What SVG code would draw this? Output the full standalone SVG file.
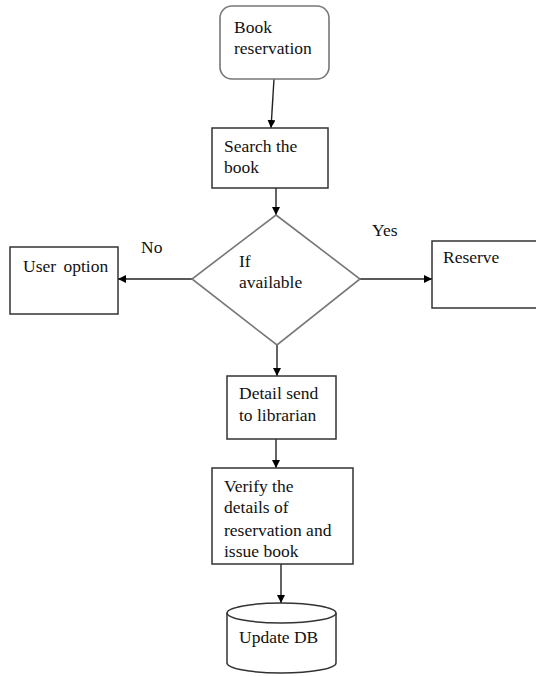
<svg xmlns="http://www.w3.org/2000/svg" width="536" height="676" viewBox="0 0 536 676">
<defs>
<marker id="ah" viewBox="0 0 10 10" refX="10" refY="5" markerWidth="8" markerHeight="8" markerUnits="userSpaceOnUse" orient="auto">
<path d="M0,0 L10,5 L0,10 Z" fill="#000"/>
</marker>
<style>
.box{fill:#fff;stroke:#333;stroke-width:1.5}
.soft{fill:#fff;stroke:#777;stroke-width:1.6}
.t{font-family:"Liberation Serif","Times New Roman",serif;font-size:17.5px;fill:#111}
.c{fill:none;stroke:#222;stroke-width:1.4;marker-end:url(#ah)}
</style>
</defs>
<rect width="536" height="676" fill="#fff"/>
<g id="connectors">
<line class="c" x1="274" y1="79" x2="271" y2="128"/>
<line class="c" x1="276" y1="188" x2="276" y2="215"/>
<line class="c" x1="192" y1="279" x2="118" y2="279"/>
<line class="c" x1="360" y1="279" x2="432" y2="279"/>
<line class="c" x1="277" y1="345" x2="277" y2="376"/>
<line class="c" x1="276" y1="439" x2="276" y2="468"/>
<line class="c" x1="281" y1="564" x2="281" y2="603"/>
<text class="t" x="141" y="253">No</text>
<text class="t" x="372" y="236">Yes</text>
</g>
<g id="book-reservation">
<rect class="soft" x="220" y="6" width="109" height="73" rx="12"/>
<text class="t" x="234" y="33">Book</text>
<text class="t" x="234" y="54">reservation</text>
</g>
<g id="search-book">
<rect class="box" x="212" y="128" width="116" height="60"/>
<text class="t" x="224" y="152">Search the</text>
<text class="t" x="224" y="173">book</text>
</g>
<g id="if-available">
<polygon class="soft" points="276,215 360,279 277,345 192,279"/>
<text class="t" x="239" y="267">If</text>
<text class="t" x="239" y="288">available</text>
</g>
<g id="user-option">
<rect class="box" x="10" y="247" width="108" height="67"/>
<text class="t" x="23" y="272" word-spacing="3">User option</text>
</g>
<g id="reserve">
<rect class="box" x="432" y="241" width="110" height="67"/>
<text class="t" x="443" y="263">Reserve</text>
</g>
<g id="detail-send">
<rect class="box" x="227" y="376" width="109" height="63"/>
<text class="t" x="239" y="399">Detail send</text>
<text class="t" x="239" y="421">to librarian</text>
</g>
<g id="verify">
<rect class="box" x="212" y="468" width="141" height="96"/>
<text class="t" x="224" y="492">Verify the</text>
<text class="t" x="224" y="513">details of</text>
<text class="t" x="224" y="536">reservation and</text>
<text class="t" x="224" y="557">issue book</text>
</g>
<g id="update-db">
<path class="box" d="M227,613 V663 A54.5,10 0 0 0 336,663 V613"/>
<ellipse class="box" cx="281.5" cy="613" rx="54.5" ry="10"/>
<text class="t" x="239" y="643">Update DB</text>
</g>
</svg>
